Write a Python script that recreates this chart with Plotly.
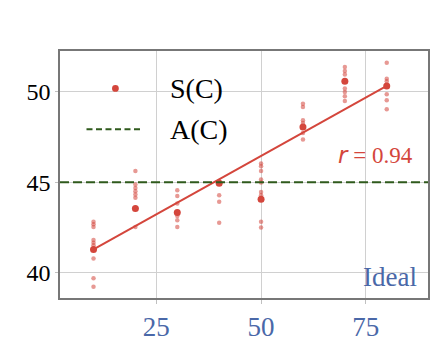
import plotly.graph_objects as go

# Condition levels and per-level samples
levels = [10, 20, 30, 40, 50, 60, 70, 80]
samples = [
    [42.80, 42.67, 42.52, 41.79, 41.64, 41.51, 40.77, 39.67, 39.20],
    [45.62, 44.87, 44.68, 44.50, 44.32, 44.13, 42.52],
    [44.55, 44.24, 43.82, 43.12, 42.89, 42.52],
    [45.05, 44.28, 43.91, 42.75],
    [46.03, 45.88, 45.62, 45.15, 44.98, 44.46, 44.28, 42.80, 42.49],
    [49.35, 49.16, 48.43, 48.28, 47.72, 47.36],
    [51.38, 51.16, 50.97, 50.19, 50.00, 49.76, 49.50],
    [51.62, 50.73, 50.60, 49.87, 49.54, 49.04],
]
means = [41.27, 43.54, 43.32, 44.94, 44.06, 48.06, 50.59, 50.33]
fit_slope = 0.1294
fit_intercept = 39.98
r_value = 0.94
baseline_value = 45.0

x_ticks = [25, 50, 75]
y_ticks = [40, 45, 50]

RED = "#d4463c"
GREEN = "#2f5a1c"
BLUE = "#4a68a8"
SERIF = "Liberation Serif, Times New Roman, serif"

sx, sy = [], []
for lv, vals in zip(levels, samples):
    sx += [lv] * len(vals)
    sy += vals

fig = go.Figure()
fig.add_trace(go.Scatter(x=sx, y=sy, mode="markers",
                         marker=dict(color=RED, size=4.5, opacity=0.55, line=dict(width=0)),
                         showlegend=False))
fig.add_trace(go.Scatter(x=levels, y=means, mode="markers",
                         marker=dict(color=RED, size=7, line=dict(width=0)),
                         showlegend=False))
fx = [levels[0], levels[-1]]
fy = [fit_intercept + fit_slope * v for v in fx]
fig.add_trace(go.Scatter(x=fx, y=fy, mode="lines",
                         line=dict(color=RED, width=2), showlegend=False))
fig.add_trace(go.Scatter(x=[2, 90], y=[baseline_value, baseline_value], mode="lines",
                         line=dict(color=GREEN, width=2, dash="9px,4px"), showlegend=False))

# hand-built legend
fig.add_shape(type="circle", xref="paper", yref="paper",
              x0=0.1506 - 3.4 / 368.5, x1=0.1506 + 3.4 / 368.5,
              y0=0.8485 - 3.4 / 247.5, y1=0.8485 + 3.4 / 247.5,
              fillcolor=RED, line=dict(width=0))
fig.add_shape(type="line", xref="paper", yref="paper",
              x0=0.072, x1=0.2266, y0=0.683, y1=0.683,
              line=dict(color=GREEN, width=2, dash="6px,3.5px"))
fig.add_annotation(xref="paper", yref="paper", x=0.2944, y=0.8485, xanchor="left", yanchor="middle",
                   text="S(C)", showarrow=False, font=dict(family=SERIF, size=28, color="black"))
fig.add_annotation(xref="paper", yref="paper", x=0.2944, y=0.683, xanchor="left", yanchor="middle",
                   text="A(C)", showarrow=False, font=dict(family=SERIF, size=28, color="black"))

fig.add_annotation(xref="paper", yref="paper", x=0.966, y=0.578, xanchor="right", yanchor="middle",
                   text=f"<span style=\"font-family:'DejaVu Sans'\"><i>r</i></span> = {r_value:.2f}",
                   showarrow=False, font=dict(family=SERIF, size=23, color=RED))
fig.add_annotation(xref="paper", yref="paper", x=0.975, y=0.085, xanchor="right", yanchor="middle",
                   text="Ideal", showarrow=False, font=dict(family=SERIF, size=27, color=BLUE))

fig.update_layout(
    width=446, height=344,
    margin=dict(l=59.5, r=18, t=50.5, b=46, autoexpand=False),
    paper_bgcolor="white", plot_bgcolor="white",
    showlegend=False,
)
fig.update_xaxes(range=[2, 89.85], tickvals=x_ticks, ticktext=[str(t) for t in x_ticks],
                 automargin=False,
                 showgrid=True, gridcolor="#d0d0d0", gridwidth=1.2, zeroline=False,
                 showline=True, linecolor="#777", linewidth=1.5, mirror=True,
                 ticks="outside", ticklen=4, tickcolor="#c0c0c0",
                 tickfont=dict(family=SERIF, size=27, color=BLUE))
fig.update_yaxes(range=[38.58, 52.27], tickvals=y_ticks, ticktext=[str(t) for t in y_ticks],
                 automargin=False,
                 showgrid=True, gridcolor="#d0d0d0", gridwidth=1.2, zeroline=False,
                 showline=True, linecolor="#777", linewidth=1.5, mirror=True,
                 ticks="outside", ticklen=3, tickcolor="#c0c0c0",
                 tickfont=dict(family=SERIF, size=24, color="black"))

fig.write_html("out.html")
